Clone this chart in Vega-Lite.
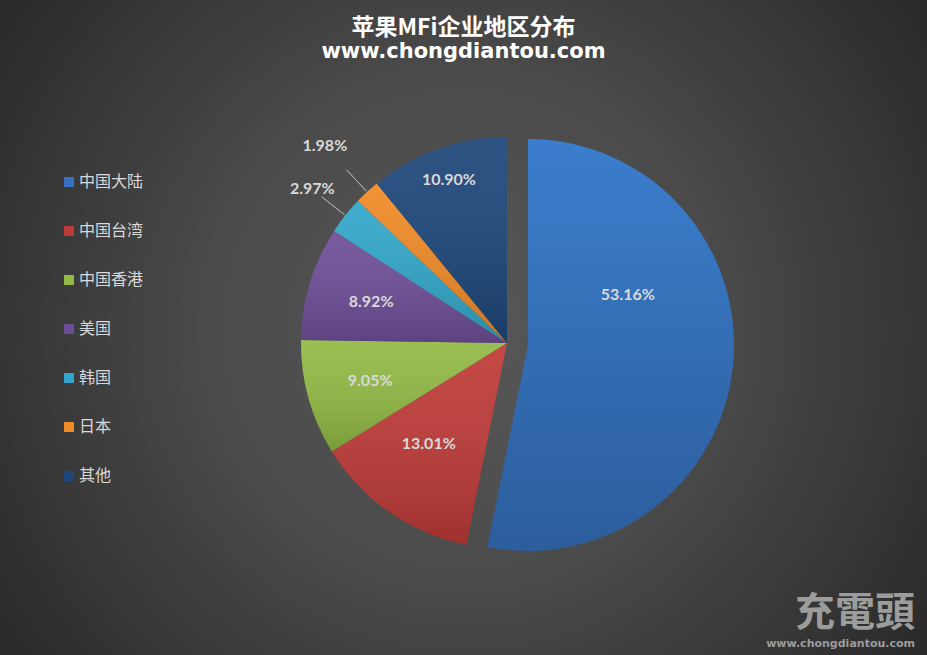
{
  "$schema": "https://vega.github.io/schema/vega-lite/v6.json",
  "width": 927,
  "height": 655,
  "autosize": {"type": "none", "contains": "padding"},
  "padding": 0,
  "background": "#2b2b2b",
  "config": {
    "view": {
      "stroke": null,
      "fill": {
        "gradient": "radial",
        "x1": 0.5, "y1": 0.5, "r1": 0,
        "x2": 0.5, "y2": 0.5, "r2": 0.61,
        "stops": [
          {"offset": 0, "color": "#585858"},
          {"offset": 0.46, "color": "#4a4a4a"},
          {"offset": 0.82, "color": "#343434"},
          {"offset": 1, "color": "#2a2a2a"}
        ]
      }
    },
    "text": {"font": "Lato", "fontWeight": "bold", "fontSize": 16, "fill": "#d9d9d9"}
  },
  "title": {
    "text": "苹果MFi企业地区分布",
    "subtitle": "www.chongdiantou.com",
    "font": "Noto Sans CJK SC",
    "fontSize": 23,
    "fontWeight": "bold",
    "color": "#ffffff",
    "subtitleFont": "DejaVu Sans",
    "subtitleFontSize": 21,
    "subtitleFontWeight": "bold",
    "subtitleColor": "#ffffff",
    "subtitlePadding": 1,
    "anchor": "middle",
    "offset": -62
  },
  "data": {
    "values": [
      {"region": "中国大陆", "share": 0.5316, "rank": 1},
      {"region": "中国台湾", "share": 0.1301, "rank": 2},
      {"region": "中国香港", "share": 0.0905, "rank": 3},
      {"region": "美国", "share": 0.0892, "rank": 4},
      {"region": "韩国", "share": 0.0297, "rank": 5},
      {"region": "日本", "share": 0.0198, "rank": 6},
      {"region": "其他", "share": 0.1090, "rank": 7}
    ]
  },
  "transform": [
    {"stack": "share", "groupby": [], "sort": [{"field": "rank", "order": "ascending"}], "as": ["s0", "s1"]},
    {"calculate": "(datum.s0 + datum.s1) / 2", "as": "mid"}
  ],
  "layer": [
    {
      "transform": [{"filter": "datum.region !== '中国大陆'"}],
      "mark": {"type": "arc", "radius": 206, "xOffset": 43.5, "yOffset": 15.5},
      "encoding": {
        "x": {"value": {"expr": "width/2"}},
        "y": {"value": {"expr": "height/2"}},
        "theta": {"field": "s0", "type": "quantitative", "stack": null, "scale": {"domain": [0, 0.9999]}},
        "theta2": {"field": "s1"},
        "color": {
          "field": "region",
          "type": "nominal",
          "scale": {
            "domain": ["中国大陆", "中国台湾", "中国香港", "美国", "韩国", "日本", "其他"],
            "range": ["#3672bf", "#be3a37", "#92ba44", "#6e4d98", "#31a6c9", "#f08a26", "#1d467a"]
          },
          "legend": {
            "title": null,
            "orient": "none",
            "legendX": 61,
            "legendY": 174,
            "symbolType": "square",
            "symbolSize": 100,
            "symbolStrokeWidth": 0,
            "labelFont": "Noto Sans CJK SC",
            "labelFontSize": 16,
            "labelColor": "#d9d9d9",
            "labelOffset": 2,
            "rowPadding": 33
          }
        }
      }
    },
    {
      "transform": [{"filter": "datum.region !== '中国大陆'"}],
      "mark": {
        "type": "arc",
        "radius": 206,
        "xOffset": 43.5,
        "yOffset": 15.5,
        "fill": {
          "gradient": "linear", "x1": 0, "y1": 0, "x2": 0, "y2": 1,
          "stops": [
            {"offset": 0, "color": "rgba(255,255,255,0.07)"},
            {"offset": 1, "color": "rgba(0,0,0,0.16)"}
          ]
        }
      },
      "encoding": {
        "x": {"value": {"expr": "width/2"}},
        "y": {"value": {"expr": "height/2"}},
        "theta": {"field": "s0", "type": "quantitative", "stack": null, "scale": {"domain": [0, 0.9999]}},
        "theta2": {"field": "s1"}
      }
    },
    {
      "transform": [{"filter": "datum.region === '中国大陆'"}],
      "mark": {
        "type": "arc",
        "radius": 206,
        "xOffset": 64.5,
        "yOffset": 17.5,
        "fill": {
          "gradient": "linear", "x1": 0, "y1": 0, "x2": 0, "y2": 1,
          "stops": [
            {"offset": 0, "color": "#3b7ecd"},
            {"offset": 1, "color": "#2c5d9c"}
          ]
        }
      },
      "encoding": {
        "x": {"value": {"expr": "width/2"}},
        "y": {"value": {"expr": "height/2"}},
        "theta": {"field": "s0", "type": "quantitative", "stack": null, "scale": {"domain": [0, 0.9999]}},
        "theta2": {"field": "s1"}
      }
    },
    {
      "transform": [{"filter": {"field": "region", "oneOf": ["韩国", "日本"]}}],
      "mark": {"type": "arc", "radius": 236, "radius2": 207, "filled": false, "stroke": "#a6a6a6", "strokeWidth": 1, "xOffset": 43.5, "yOffset": 15.5},
      "encoding": {
        "x": {"value": {"expr": "width/2"}},
        "y": {"value": {"expr": "height/2"}},
        "theta": {"field": "mid", "type": "quantitative", "stack": null, "scale": {"domain": [0, 0.9999]}},
        "theta2": {"field": "mid"}
      }
    },
    {
      "transform": [{"filter": {"field": "region", "oneOf": ["中国香港", "美国"]}}],
      "mark": {"type": "text", "radius": 142, "xOffset": 43.5, "yOffset": 15.5},
      "encoding": {
        "x": {"value": {"expr": "width/2"}},
        "y": {"value": {"expr": "height/2"}},
        "theta": {"field": "mid", "type": "quantitative", "stack": null, "scale": {"domain": [0, 0.9999]}},
        "text": {"field": "share", "format": ".2%"}
      }
    },
    {
      "transform": [{"filter": "datum.region === '中国台湾'"}],
      "mark": {"type": "text", "radius": 128, "thetaOffset": 0.05, "xOffset": 43.5, "yOffset": 15.5},
      "encoding": {
        "x": {"value": {"expr": "width/2"}},
        "y": {"value": {"expr": "height/2"}},
        "theta": {"field": "mid", "type": "quantitative", "stack": null, "scale": {"domain": [0, 0.9999]}},
        "text": {"field": "share", "format": ".2%"}
      }
    },
    {
      "transform": [{"filter": "datum.region === '其他'"}],
      "mark": {"type": "text", "radius": 173, "xOffset": 43.5, "yOffset": 15.5},
      "encoding": {
        "x": {"value": {"expr": "width/2"}},
        "y": {"value": {"expr": "height/2"}},
        "theta": {"field": "mid", "type": "quantitative", "stack": null, "scale": {"domain": [0, 0.9999]}},
        "text": {"field": "share", "format": ".2%"}
      }
    },
    {
      "transform": [{"filter": "datum.region === '中国大陆'"}],
      "mark": {"type": "text", "radius": 130, "thetaOffset": -0.477, "xOffset": 43.5, "yOffset": 15.5},
      "encoding": {
        "x": {"value": {"expr": "width/2"}},
        "y": {"value": {"expr": "height/2"}},
        "theta": {"field": "mid", "type": "quantitative", "stack": null, "scale": {"domain": [0, 0.9999]}},
        "text": {"field": "share", "format": ".2%"}
      }
    },
    {
      "transform": [{"filter": "datum.region === '韩国'"}],
      "mark": {"type": "text", "radius": 248, "xOffset": 43.5, "yOffset": 15.5},
      "encoding": {
        "x": {"value": {"expr": "width/2"}},
        "y": {"value": {"expr": "height/2"}},
        "theta": {"field": "mid", "type": "quantitative", "stack": null, "scale": {"domain": [0, 0.9999]}},
        "text": {"field": "share", "format": ".2%"}
      }
    },
    {
      "transform": [{"filter": "datum.region === '日本'"}],
      "mark": {"type": "text", "radius": 268, "xOffset": 43.5, "yOffset": 15.5},
      "encoding": {
        "x": {"value": {"expr": "width/2"}},
        "y": {"value": {"expr": "height/2"}},
        "theta": {"field": "mid", "type": "quantitative", "stack": null, "scale": {"domain": [0, 0.9999]}},
        "text": {"field": "share", "format": ".2%"}
      }
    },
    {
      "data": {"values": [{"t": "充電頭"}]},
      "mark": {"type": "text", "font": "Noto Sans CJK TC", "fontSize": 40, "fontWeight": "bold", "fill": "#9c9c9c", "align": "right", "baseline": "alphabetic", "dx": -12, "dy": -29},
      "encoding": {"x": {"value": "width"}, "y": {"value": "height"}, "text": {"field": "t"}}
    },
    {
      "data": {"values": [{"t": "www.chongdiantou.com"}]},
      "mark": {"type": "text", "font": "DejaVu Sans", "fontSize": 11, "fontWeight": "bold", "fill": "#9c9c9c", "align": "right", "baseline": "alphabetic", "dx": -12, "dy": -8},
      "encoding": {"x": {"value": "width"}, "y": {"value": "height"}, "text": {"field": "t"}}
    }
  ]
}
